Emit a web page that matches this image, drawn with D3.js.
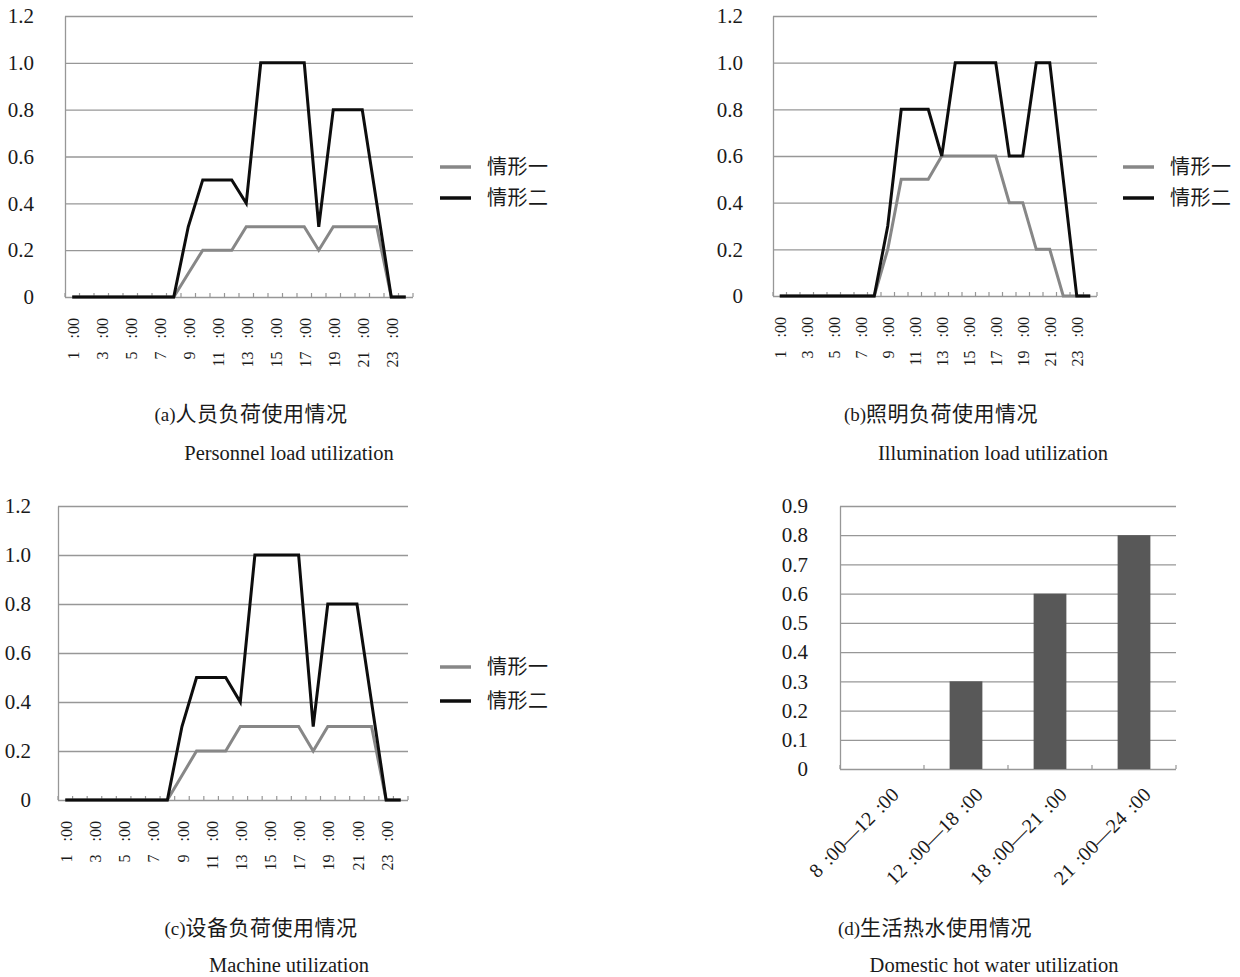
<!DOCTYPE html>
<html>
<head>
<meta charset="utf-8">
<script src="https://cdn.jsdelivr.net/npm/d3@7"></script>
<style>
  body { margin: 0; background: #fff; }
  svg text { font-family: "Liberation Serif", "Times New Roman", serif; fill: #1a1a1a; }
  .cjk { font-family: "Noto Sans CJK SC", "Noto Sans", sans-serif; }
</style>
</head>
<body>
<svg id="chart" width="1240" height="977"></svg>
<script>
// Hourly categories shared by the three line charts
const hours = ["1:00","2:00","3:00","4:00","5:00","6:00","7:00","8:00","9:00","10:00","11:00","12:00",
               "13:00","14:00","15:00","16:00","17:00","18:00","19:00","20:00","21:00","22:00","23:00","24:00"];
const scenarioNames = ["情形一", "情形二"];

// (a) personnel load
const personnelCase1 = [0,0,0,0,0,0,0,0,0.1,0.2,0.2,0.2,0.3,0.3,0.3,0.3,0.3,0.2,0.3,0.3,0.3,0.3,0,0];
const personnelCase2 = [0,0,0,0,0,0,0,0,0.3,0.5,0.5,0.5,0.4,1.0,1.0,1.0,1.0,0.3,0.8,0.8,0.8,0.4,0,0];
// (b) lighting load
const lightingCase1  = [0,0,0,0,0,0,0,0,0.2,0.5,0.5,0.5,0.6,0.6,0.6,0.6,0.6,0.4,0.4,0.2,0.2,0,0,0];
const lightingCase2  = [0,0,0,0,0,0,0,0,0.3,0.8,0.8,0.8,0.6,1.0,1.0,1.0,1.0,0.6,0.6,1.0,1.0,0.5,0,0];
// (c) equipment load
const equipmentCase1 = [0,0,0,0,0,0,0,0,0.1,0.2,0.2,0.2,0.3,0.3,0.3,0.3,0.3,0.2,0.3,0.3,0.3,0.3,0,0];
const equipmentCase2 = [0,0,0,0,0,0,0,0,0.3,0.5,0.5,0.5,0.4,1.0,1.0,1.0,1.0,0.3,0.8,0.8,0.8,0.4,0,0];
// (d) domestic hot water
const hotWaterPeriods = ["8:00—12:00", "12:00—18:00", "18:00—21:00", "21:00—24:00"];
const hotWaterValues  = [0, 0.3, 0.6, 0.8];

const lineTicks = [0, 0.2, 0.4, 0.6, 0.8, 1.0, 1.2];
const barTicks  = [0, 0.1, 0.2, 0.3, 0.4, 0.5, 0.6, 0.7, 0.8, 0.9];

const GRID = "#979797";
const CASE1 = "#878787";
const CASE2 = "#0d0d0d";
const svg = d3.select("#chart");

const fmtTick = d => d === 0 ? "0" : d.toFixed(1);
const spacedColon = s => s.replace(/:/g, " :");

function caption(g, cx, y, prefix, zh, cxEn, yEn, en) {
  const t = g.append("text").attr("x", cx).attr("y", y).attr("text-anchor", "middle")
    .style("font-size", "19px");
  t.append("tspan").text(prefix);
  t.append("tspan").attr("class", "cjk").style("font-size", "21px")
    .style("letter-spacing", "0.5px").text(zh);
  g.append("text").attr("x", cxEn).attr("y", yEn).attr("text-anchor", "middle")
    .style("font-size", "20.5px").text(en);
}

function baselineTicks(g, x, y0) {
  const edges = x.domain().map(d => x(d)).concat([x.range()[1]]);
  g.append("g").selectAll("line").data(edges).join("line")
    .attr("x1", d => d).attr("x2", d => d)
    .attr("y1", y0).attr("y2", y0 - 4)
    .attr("stroke", GRID).attr("stroke-width", 1.2);
}

function valueAxis(g, y, o, ticks) {
  const yAxis = g.append("g").attr("transform", `translate(${o.x0},0)`)
    .call(d3.axisLeft(y).tickValues(ticks).tickFormat(fmtTick)
      .tickSize(-(o.x1 - o.x0)).tickSizeOuter(0).tickPadding(o.labelGap));
  yAxis.select(".domain").attr("stroke", GRID).attr("stroke-width", 1.3);
  yAxis.selectAll(".tick line").attr("stroke", GRID).attr("stroke-width", 1.3);
  yAxis.selectAll(".tick text").style("font-size", "21px").attr("fill", "#1a1a1a");
}

function lineChart(o) {
  const g = svg.append("g");
  const x = d3.scaleBand().domain(hours).range([o.x0, o.x1]);
  const y = d3.scaleLinear().domain([0, 1.2]).range([o.y0, o.y1]);

  valueAxis(g, y, o, lineTicks);
  baselineTicks(g, x, o.y0);

  // hour labels, every other category, turned vertical
  const xAxis = g.append("g").attr("transform", `translate(0,${o.y0})`)
    .call(d3.axisBottom(x).tickValues(hours.filter((h, i) => i % 2 === 0))
      .tickFormat(spacedColon).tickSize(0));
  xAxis.select(".domain").remove();
  xAxis.selectAll(".tick text")
    .attr("transform", "rotate(-90)")
    .attr("text-anchor", "end")
    .attr("x", -21).attr("y", 1).attr("dy", "0.35em")
    .style("font-size", "16px").style("word-spacing", "9px").attr("fill", "#1a1a1a");

  // scenario lines
  const line = d3.line().x((d, i) => x(hours[i]) + x.bandwidth() / 2).y(d => y(d));
  [[o.case1, CASE1], [o.case2, CASE2]].forEach(([vals, col]) => {
    g.append("path").datum(vals).attr("d", line)
      .attr("fill", "none").attr("stroke", col).attr("stroke-width", 3)
      .attr("stroke-linejoin", "miter");
  });

  // legend
  const lg = g.append("g").attr("transform", `translate(${o.legX},${o.legY})`);
  scenarioNames.forEach((name, i) => {
    const row = lg.append("g").attr("transform", `translate(0,${i * o.legStep})`);
    row.append("line").attr("x1", 0).attr("x2", 31).attr("stroke", i ? CASE2 : CASE1).attr("stroke-width", 3.5);
    row.append("text").attr("class", "cjk").attr("x", 47).attr("dy", "0.36em")
      .style("font-size", "20px").style("letter-spacing", "0.5px").text(name);
  });

  caption(g, o.capX, o.capY, o.prefix, o.zh, o.capXEn, o.capYEn, o.en);
}

lineChart({
  x0: 65, x1: 413, y0: 297, y1: 16, labelGap: 31,
  case1: personnelCase1, case2: personnelCase2,
  legX: 440, legY: 167, legStep: 31,
  capX: 251, capY: 421, capXEn: 289, capYEn: 460,
  prefix: "(a)", zh: "人员负荷使用情况", en: "Personnel load utilization"
});

lineChart({
  x0: 773, x1: 1097, y0: 296, y1: 16, labelGap: 30,
  case1: lightingCase1, case2: lightingCase2,
  legX: 1123, legY: 167, legStep: 31,
  capX: 941, capY: 421, capXEn: 993, capYEn: 460,
  prefix: "(b)", zh: "照明负荷使用情况", en: "Illumination load utilization"
});

lineChart({
  x0: 58, x1: 408, y0: 800, y1: 506, labelGap: 27,
  case1: equipmentCase1, case2: equipmentCase2,
  legX: 440, legY: 667, legStep: 34,
  capX: 261, capY: 935, capXEn: 289, capYEn: 972,
  prefix: "(c)", zh: "设备负荷使用情况", en: "Machine utilization"
});

// (d) hot water bar chart
(function barChart() {
  const o = { x0: 840, x1: 1176, y0: 769, y1: 506, labelGap: 32 };
  const g = svg.append("g");
  const x = d3.scaleBand().domain(hotWaterPeriods).range([o.x0, o.x1]);
  const y = d3.scaleLinear().domain([0, 0.9]).range([o.y0, o.y1]);

  valueAxis(g, y, o, barTicks);
  baselineTicks(g, x, o.y0);

  const barW = x.bandwidth() * 0.39;
  g.append("g").selectAll("rect").data(hotWaterValues).join("rect")
    .attr("x", (d, i) => x(hotWaterPeriods[i]) + (x.bandwidth() - barW) / 2)
    .attr("width", barW)
    .attr("y", d => y(d))
    .attr("height", d => y(0) - y(d))
    .attr("fill", "#585858");

  const xAxis = g.append("g").attr("transform", `translate(0,${o.y0})`)
    .call(d3.axisBottom(x).tickFormat(spacedColon).tickSize(0));
  xAxis.select(".domain").remove();
  xAxis.selectAll(".tick text")
    .attr("transform", "translate(18,27) rotate(-45)")
    .attr("text-anchor", "end")
    .attr("x", 0).attr("y", 0).attr("dy", 0)
    .style("font-size", "20px").style("word-spacing", "3px").attr("fill", "#1a1a1a");

  caption(g, 935, 935, "(d)", "生活热水使用情况", 994, 972, "Domestic hot water utilization");
})();
</script>
</body>
</html>
